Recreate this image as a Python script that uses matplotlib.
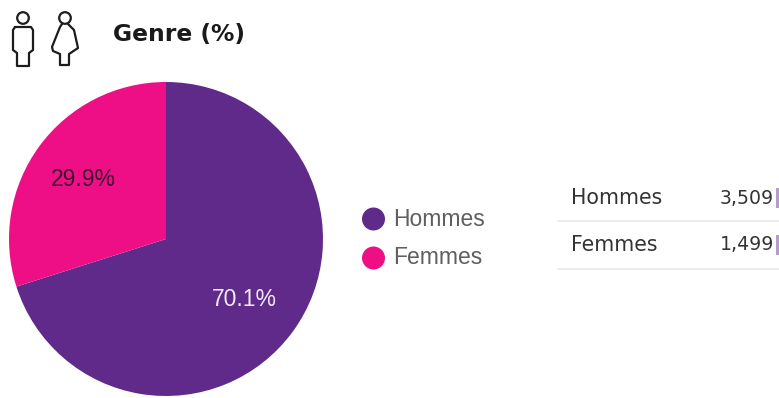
import matplotlib

matplotlib.use("Agg")
import matplotlib.pyplot as plt
from matplotlib.patches import Circle, Rectangle

W, H = 779, 398

categories = ["Hommes", "Femmes"]
shares = [70.1, 29.9]
counts = ["3,509", "1,499"]
colors = ["#5f2a8a", "#ee0f87"]
label_colors = ["#f1e9f5", "#3a1030"]

plt.rcParams["font.family"] = ["Liberation Sans", "DejaVu Sans"]

fig = plt.figure(figsize=(W / 100, H / 100), dpi=100, facecolor="white")

# pie, centred at (166, 239) with a 157 px radius
cx, cy, r = 166, 239, 157
ax = fig.add_axes([(cx - r) / W, 1 - (cy + r) / H, 2 * r / W, 2 * r / H])
wedges, _ = ax.pie(shares, colors=colors, startangle=90, counterclock=False, radius=1.0)
ax.set_xlim(-1, 1)
ax.set_ylim(-1, 1)
ax.set_aspect("equal")
ax.axis("off")

# overlay in pixel coordinates for the header, legend and table
bg = fig.add_axes([0, 0, 1, 1], zorder=5)
bg.set_xlim(0, W)
bg.set_ylim(H, 0)
bg.axis("off")
bg.patch.set_alpha(0)

bg.text(244, 299, f"{shares[0]}%", color=label_colors[0], fontsize=16.5, ha="center", va="center")
bg.text(83.5, 180, f"{shares[1]}%", color=label_colors[1], fontsize=16.5, ha="center", va="center")


def person(x, female=False):
    """Outline pictogram, head at the top and legs below the torso."""
    ink = dict(color="#1c1c1c", lw=1.6, solid_capstyle="round", solid_joinstyle="round")
    bg.add_patch(Circle((x, 18), 5.8, fill=False, ec="#1c1c1c", lw=1.6))
    if female:
        xs = [x - 3, x - 5, x - 13, x - 12, x - 5, x - 5, x + 4, x + 4, x + 13, x + 9, x + 3]
        ys = [24, 27, 47, 51, 54, 65, 65, 54, 48, 30, 24]
    else:
        xs = [x - 8, x - 10, x - 10, x - 6, x - 6, x + 6, x + 6, x + 10, x + 10, x + 8, x - 8]
        ys = [27, 30, 50, 53, 66, 66, 53, 50, 30, 27, 27]
    bg.plot(xs, ys, **ink)


person(23)
person(65, female=True)

bg.text(113, 34, "Genre (%)", fontsize=16.8, fontweight="bold", family=["DejaVu Sans"],
        color="#1a1a1a", ha="left", va="center")

# legend
for name, color, y in zip(categories, colors, [219, 258]):
    bg.add_patch(Circle((373.5, y), 11.5, fc=color, ec="none"))
    bg.text(393, y, name, fontsize=16.5, color="#5f5f5f", ha="left", va="center")

# table with trailing mini bars clipped by the right edge
for name, count, y, rule_y in zip(categories, counts, [198, 245], [221, 269]):
    bg.text(571, y, name, fontsize=14.8, family=["DejaVu Sans"], color="#333333",
            ha="left", va="center")
    bg.text(774, y, count, fontsize=13.6, family=["DejaVu Sans"], color="#333333",
            ha="right", va="center")
    bg.plot([558, 779], [rule_y, rule_y], color="#ececec", lw=1.5)
    bg.add_patch(Rectangle((776.5, y - 10), 3, 20, fc="#b79ad0", ec="none"))

fig.savefig("out.png", dpi=100)
